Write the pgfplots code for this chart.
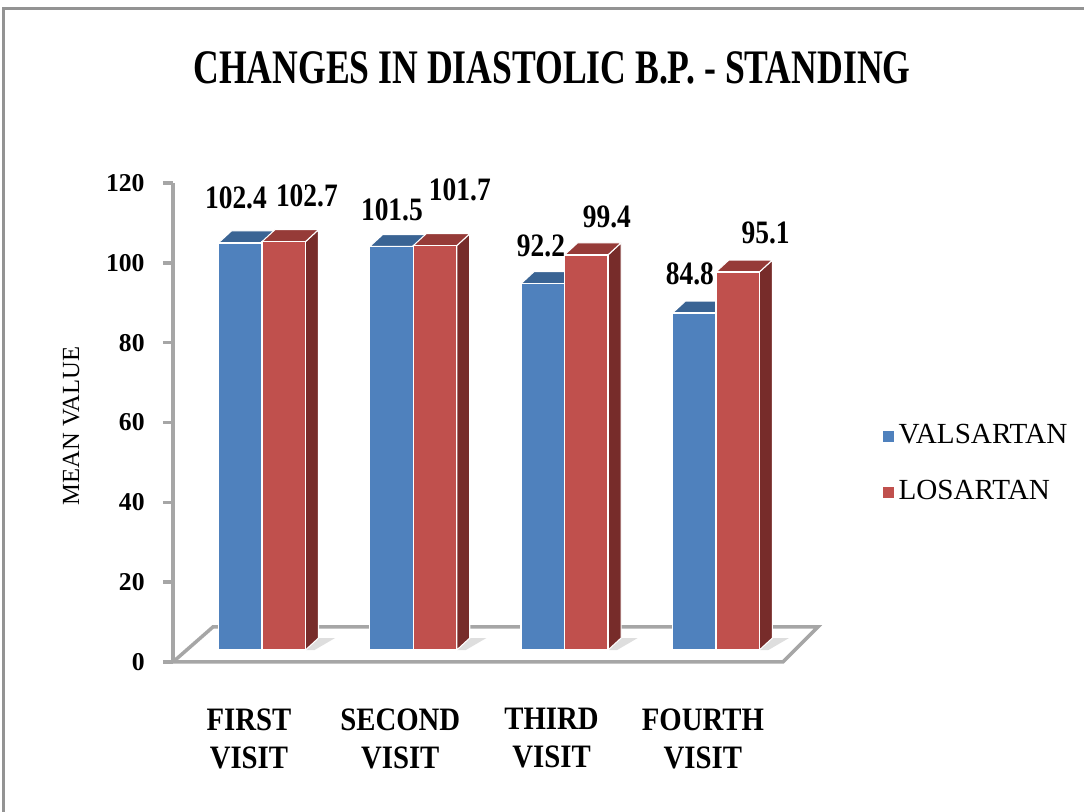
\documentclass[border=0pt]{standalone}
\usepackage{fontspec}
\setmainfont{Liberation Serif}
\newfontfamily\ttlfont{Liberation Serif}[FakeStretch=0.74]
\newfontfamily\catfont{Liberation Serif}[FakeStretch=0.88]
\newfontfamily\lblfont{Liberation Serif}[FakeStretch=0.84]
\usepackage{pgfplots}
\usepackage{pgfplotstable}
\pgfplotsset{compat=1.18}

\definecolor{valF}{HTML}{4F81BD}
\definecolor{valT}{HTML}{3A6494}
\definecolor{valS}{HTML}{2E5077}
\definecolor{losF}{HTML}{C0504D}
\definecolor{losT}{HTML}{963B38}
\definecolor{losS}{HTML}{772C2A}
\definecolor{axgray}{HTML}{A6A6A6}

% x = visit index, val/los = mean values, *lx/*ly = where the data label sits
\pgfplotstableread{
x val  los   vlx    vly   llx   lly
0 102.4 102.7 -0.172 113.3 0.297 113.8
1 101.5 101.7  0.859 110.3 1.308 115.3
2 92.2  99.4   1.844 101.3 2.280 108.5
3 84.8  95.1   2.828  94.2 3.329 104.5
}\bpdata

% 3d look of the columns
\def\bw{0.2875}
\def\ddx{0.086}
\def\ddy{3.0}
\def\yb{3.0}
\def\tb{2.6}

\newcommand{\bpbox}[5]{%
  \pgfmathsetmacro\bxL{#1}%
  \pgfmathsetmacro\bxR{#1+\bw}%
  \pgfmathsetmacro\bxLd{#1+\ddx}%
  \pgfmathsetmacro\bxRd{#1+\bw+\ddx}%
  \pgfmathsetmacro\byT{#2+\tb}%
  \pgfmathsetmacro\byTd{#2+\tb+\ddy}%
  \pgfmathsetmacro\byBd{\yb+\ddy}%
  \addplot[fill=#5, draw=white, line width=0.3pt, forget plot]
    coordinates {(\bxR,\yb) (\bxRd,\byBd) (\bxRd,\byTd) (\bxR,\byT)} -- cycle;
  \addplot[fill=#4, draw=white, line width=0.3pt, forget plot]
    coordinates {(\bxL,\byT) (\bxLd,\byTd) (\bxRd,\byTd) (\bxR,\byT)} -- cycle;
  \addplot[fill=#3, draw=white, line width=0.4pt, forget plot]
    coordinates {(\bxL,\yb) (\bxL,\byT) (\bxR,\byT) (\bxR,\yb)} -- cycle;
}
\newcommand{\bpshadow}[1]{%
  \pgfmathsetmacro\bxR{#1}%
  \pgfmathsetmacro\bxRd{#1+\ddx}%
  \pgfmathsetmacro\bxRs{#1+\ddx+0.11}%
  \pgfmathsetmacro\bxRt{#1+0.06}%
  \pgfmathsetmacro\byBd{\yb+\ddy}%
  \addplot[fill=black, fill opacity=0.13, draw=none, forget plot]
    coordinates {(\bxR,\yb) (\bxRd,\byBd) (\bxRs,\byBd) (\bxRt,\yb)} -- cycle;
}

\begin{document}
\begin{tikzpicture}
\useasboundingbox (0,0) rectangle (10.84cm,8.12cm);
\draw[gray!85, line width=0.03cm] (0.04cm,-1cm) -- (0.04cm,8.03cm) -- (12cm,8.03cm);
\node[anchor=base, font=\ttlfont\bfseries\fontsize{13.7pt}{16pt}\selectfont]
  at (5.52cm,7.28cm) {CHANGES IN DIASTOLIC B.P. - STANDING};

\begin{axis}[
  at={(1.73cm,1.50cm)}, anchor=south west,
  scale only axis, width=6.45cm, height=4.79cm,
  xmin=-0.588, xmax=3.675, ymin=0, ymax=120,
  clip=false,
  axis lines*=left,
  axis line style={-},
  x axis line style={draw=none},
  y axis line style={draw=axgray, line width=1.1pt},
  ytick={0,20,...,120},
  xtick={0,1,2,3},
  xticklabels={{FIRST\\VISIT},{SECOND\\VISIT},{THIRD\\VISIT},{FOURTH\\VISIT}},
  tick align=outside,
  major tick length=0.1cm,
  ytick style={draw=axgray, line width=1pt},
  xtick style={draw=none},
  /pgf/number format/assume math mode=true,
  yticklabel style={font=\bfseries\fontsize{7.3pt}{9pt}\selectfont, xshift=-0.06cm},
  xticklabel style={font=\catfont\bfseries\fontsize{9.3pt}{0.38cm}\selectfont,
    align=center, yshift=-0.24cm, xshift=-0.13cm},
  ylabel={MEAN VALUE},
  every axis y label/.style={at={(rel axis cs:-0.158,0.493)}, rotate=90,
    anchor=center, font=\fontsize{7pt}{9pt}\selectfont},
  legend style={at={(rel axis cs:1.099,0.509)}, anchor=north west,
    draw=none, fill=none, font=\fontsize{8.3pt}{10pt}\selectfont,
    row sep=0.22cm, inner sep=0pt, nodes={inner sep=0.05cm},
    /tikz/every even column/.append style={xshift=0.03cm}},
  legend image code/.code={\fill[#1] (0cm,-0.055cm) rectangle (0.11cm,0.055cm);},
  legend cell align=left,
]
% floor
\addplot[fill=white, draw=axgray, line width=1pt, forget plot]
  coordinates {(-0.588,0) (3.443,0) (3.675,8.77) (-0.324,8.77)} -- cycle;

\pgfplotsinvokeforeach{0,1,2,3}{
  \pgfplotstablegetelem{#1}{val}\of\bpdata \let\va\pgfplotsretval
  \pgfplotstablegetelem{#1}{los}\of\bpdata \let\vb\pgfplotsretval
  \bpshadow{#1+\bw}
  \bpbox{#1-\bw}{\va}{valF}{valT}{valS}
  \bpbox{#1}{\vb}{losF}{losT}{losS}
}

% data labels
\addplot[draw=none, forget plot, nodes near coords, point meta=explicit symbolic,
  nodes near coords style={anchor=south, inner sep=0pt,
    font=\lblfont\bfseries\fontsize{9.3pt}{10pt}\selectfont}]
  table[x=vlx, y=vly, meta=val] {\bpdata};
\addplot[draw=none, forget plot, nodes near coords, point meta=explicit symbolic,
  nodes near coords style={anchor=south, inner sep=0pt,
    font=\lblfont\bfseries\fontsize{9.3pt}{10pt}\selectfont}]
  table[x=llx, y=lly, meta=los] {\bpdata};

\addlegendimage{fill=valF, draw=none}
\addlegendentry{VALSARTAN}
\addlegendimage{fill=losF, draw=none}
\addlegendentry{LOSARTAN}
\end{axis}
\end{tikzpicture}
\end{document}
